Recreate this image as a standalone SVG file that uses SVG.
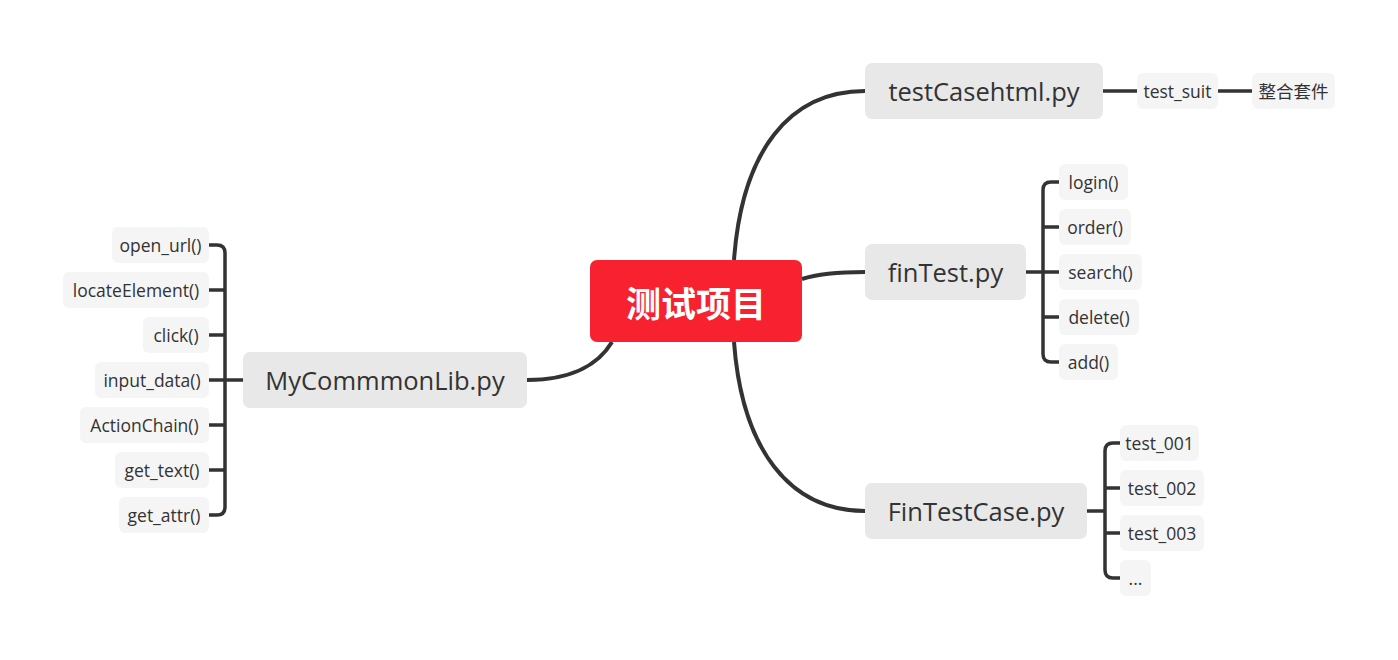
<svg xmlns="http://www.w3.org/2000/svg" width="1398" height="660" viewBox="0 0 1398 660">
<style>
.main{fill:#e8e8e8}
.sub{fill:#f5f5f5}
.t1{font-family:"Open Sans","Noto Sans CJK SC",sans-serif;font-size:25.5px;fill:#333;text-anchor:middle;dominant-baseline:central}
.t2{font-family:"Open Sans","Noto Sans CJK SC",sans-serif;font-size:17.5px;fill:#333;text-anchor:middle;dominant-baseline:central}
.c{fill:none;stroke:#333;stroke-width:4;stroke-linecap:butt}
.b{fill:none;stroke:#333;stroke-width:3.5}
</style>
<rect width="1398" height="660" fill="#fff"/>
<g id="connectors">
<path class="c" d="M734,260 C742,150 790,91 865,91"/>
<path class="c" d="M802,279 C820,273 840,272 865,272"/>
<path class="c" d="M734,342 C742,450 790,511 865,511"/>
<path class="c" d="M612,342 C600,362 575,380 527,380"/>
<path class="b" d="M1103,91 H1137 M1218,91 H1252"/>
<path class="b" d="M1026,272 H1059 M1059,182 H1051 Q1043,182 1043,190 V354 Q1043,362 1051,362 H1059 M1043,227 Q1043,227 1059,227 M1043,317 H1059"/>
<path class="b" d="M1087,511 H1105 M1120,443 H1113 Q1105,443 1105,451 V570 Q1105,578 1113,578 H1120 M1105,488 H1120 M1105,533 H1120"/>
<path class="b" d="M243,380 H209 M209,245 H217 Q225,245 225,253 V507 Q225,515 217,515 H209 M225,290 H209 M225,335 H209 M225,425 H209 M225,470 H209"/>
</g>
<g id="root">
<rect x="590" y="260" width="212" height="82" rx="7" fill="#f8212f"/>
<text x="696" y="301" font-family="'Noto Sans CJK SC',sans-serif" font-size="35" font-weight="bold" fill="#fff" text-anchor="middle" dominant-baseline="central">测试项目</text>
</g>
<g id="testCasehtml">
<rect class="main" x="865" y="63" width="238" height="56" rx="7"/>
<text class="t1" x="984" y="91">testCasehtml.py</text>
</g>
<g id="test_suit">
<rect class="sub" x="1137" y="73" width="81" height="36" rx="6"/>
<text class="t2" x="1177.5" y="91">test_suit</text>
</g>
<g id="zhenghe">
<rect class="sub" x="1252" y="73" width="83" height="36" rx="6"/>
<text class="t2" x="1293.5" y="91">整合套件</text>
</g>
<g id="finTest">
<rect class="main" x="865" y="244" width="161" height="56" rx="7"/>
<text class="t1" x="945.5" y="272">finTest.py</text>
</g>
<g id="login"><rect class="sub" x="1059" y="164" width="69" height="36" rx="6"/><text class="t2" x="1093.5" y="182">login()</text></g>
<g id="order"><rect class="sub" x="1059" y="209" width="72" height="36" rx="6"/><text class="t2" x="1095" y="227">order()</text></g>
<g id="search"><rect class="sub" x="1059" y="254" width="83" height="36" rx="6"/><text class="t2" x="1100.5" y="272">search()</text></g>
<g id="delete"><rect class="sub" x="1059" y="299" width="80" height="36" rx="6"/><text class="t2" x="1099" y="317">delete()</text></g>
<g id="add"><rect class="sub" x="1059" y="344" width="59" height="36" rx="6"/><text class="t2" x="1088.5" y="362">add()</text></g>
<g id="FinTestCase">
<rect class="main" x="865" y="483" width="222" height="56" rx="7"/>
<text class="t1" x="976" y="511">FinTestCase.py</text>
</g>
<g id="test_001"><rect class="sub" x="1120" y="425" width="79" height="36" rx="6"/><text class="t2" x="1159.5" y="443">test_001</text></g>
<g id="test_002"><rect class="sub" x="1120" y="470" width="84" height="36" rx="6"/><text class="t2" x="1162" y="488">test_002</text></g>
<g id="test_003"><rect class="sub" x="1120" y="515" width="84" height="36" rx="6"/><text class="t2" x="1162" y="533">test_003</text></g>
<g id="dots"><rect class="sub" x="1120" y="560" width="31" height="36" rx="6"/><text class="t2" x="1135.5" y="578">...</text></g>
<g id="MyCommmonLib">
<rect class="main" x="243" y="352" width="284" height="56" rx="7"/>
<text class="t1" x="385" y="380">MyCommmonLib.py</text>
</g>
<g id="open_url"><rect class="sub" x="112" y="227" width="97" height="36" rx="6"/><text class="t2" x="160.5" y="245">open_url()</text></g>
<g id="locateElement"><rect class="sub" x="63" y="272" width="146" height="36" rx="6"/><text class="t2" x="136" y="290">locateElement()</text></g>
<g id="click"><rect class="sub" x="143" y="317" width="66" height="36" rx="6"/><text class="t2" x="176" y="335">click()</text></g>
<g id="input_data"><rect class="sub" x="95" y="362" width="114" height="36" rx="6"/><text class="t2" x="152" y="380">input_data()</text></g>
<g id="ActionChain"><rect class="sub" x="80" y="407" width="129" height="36" rx="6"/><text class="t2" x="144.5" y="425">ActionChain()</text></g>
<g id="get_text"><rect class="sub" x="115" y="452" width="94" height="36" rx="6"/><text class="t2" x="162" y="470">get_text()</text></g>
<g id="get_attr"><rect class="sub" x="119" y="497" width="90" height="36" rx="6"/><text class="t2" x="164" y="515">get_attr()</text></g>
</svg>
